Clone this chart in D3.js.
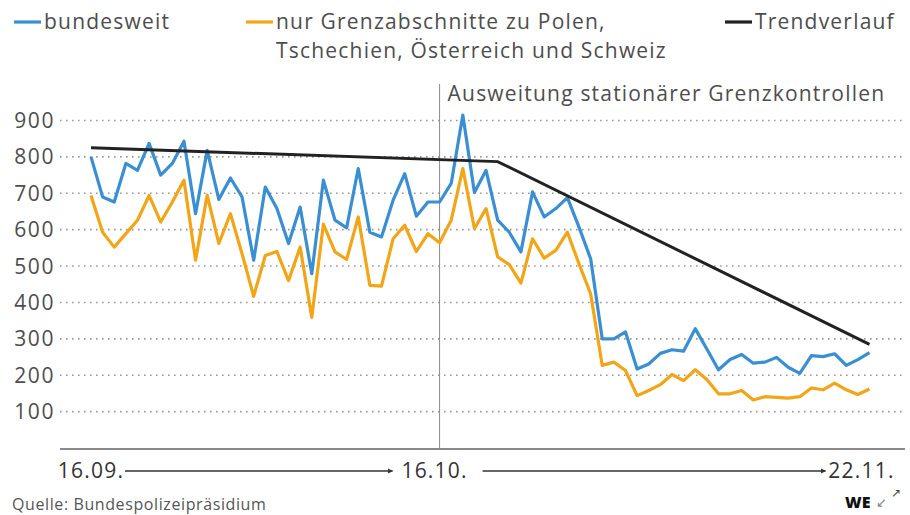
<!DOCTYPE html>
<html>
<head>
<meta charset="utf-8">
<script src="https://cdn.jsdelivr.net/npm/d3@7"></script>
<style>
  body { margin: 0; background: #fff; }
  svg text { font-family: "Open Sans", sans-serif; fill: #4d4d4d; }
  svg text.wide { letter-spacing: 1.2px; }
</style>
</head>
<body>
<div id="chart"></div>
<script>
// Tagesbezogene Werte ab 16.09. (68 Tage bis 22.11.)
const startDate = new Date(2023, 8, 16);
const bundesweit = [
  800, 690, 676, 782, 763, 837, 750, 782, 843, 644,
  818, 683, 742, 690, 516, 717, 658, 562, 662, 479,
  736, 626, 605, 768, 593, 580, 681, 754, 637, 676,
  676, 727, 915, 702, 763, 626, 593, 539, 704, 635,
  658, 688, 607, 520, 300, 300, 319, 217, 231, 260,
  270, 266, 328, 272, 215, 243, 257, 233, 236, 249,
  222, 205, 254, 251, 259, 227, 243, 262
];
const grenzabschnitte = [
  694, 593, 552, 589, 626, 694, 621, 676, 736, 516,
  695, 562, 644, 534, 417, 529, 540, 460, 552, 359,
  615, 539, 518, 635, 447, 445, 575, 612, 540, 589,
  564, 626, 768, 603, 658, 525, 504, 453, 575, 522,
  543, 593, 506, 424, 227, 236, 213, 144, 158, 174,
  202, 185, 215, 188, 149, 149, 158, 132, 141, 139,
  137, 141, 165, 160, 178, 160, 147, 162
];
const trendDays = [0, 35, 67];
const trendValues = [825, 787, 285];
const yTicks = [100, 200, 300, 400, 500, 600, 700, 800, 900];
const xLabels = ["16.09.", "16.10.", "22.11."];
const xLabelDays = [0, 30, 67];
const markerDay = 30;

const dayDate = (i) => d3.timeDay.offset(startDate, i);

const width = 910;
const height = 515;

const svg = d3
  .select("#chart")
  .append("svg")
  .attr("width", width)
  .attr("height", height);

const x = d3
  .scaleTime()
  .domain([dayDate(0), dayDate(67)])
  .range([91, 869.5]);

const y = d3.scaleLinear().domain([0, 900]).range([448, 120.5]);

// Gitterlinien
svg
  .append("g")
  .selectAll("line")
  .data(yTicks)
  .enter()
  .append("line")
  .attr("x1", 60)
  .attr("x2", 905)
  .attr("y1", (d) => y(d))
  .attr("y2", (d) => y(d))
  .attr("stroke", "#9a9a9a")
  .attr("stroke-width", 1.6)
  .attr("stroke-dasharray", "1.6,4.4");

svg
  .append("g")
  .selectAll("text")
  .data(yTicks)
  .enter()
  .append("text")
  .attr("class", "wide")
  .attr("x", 55)
  .attr("y", (d) => y(d))
  .attr("dy", "0.36em")
  .attr("text-anchor", "end")
  .style("font-size", "21px")
  .style("letter-spacing", "1.6px")
  .text((d) => d);

// Grundlinie
svg
  .append("line")
  .attr("x1", 60)
  .attr("x2", 905)
  .attr("y1", y(0) + 1)
  .attr("y2", y(0) + 1)
  .attr("stroke", "#8a8a8a")
  .attr("stroke-width", 2);

// Markierung Ausweitung
svg
  .append("line")
  .attr("x1", x(dayDate(markerDay)))
  .attr("x2", x(dayDate(markerDay)))
  .attr("y1", 84)
  .attr("y2", y(0))
  .attr("stroke", "#8a8a8a")
  .attr("stroke-width", 1);

svg
  .append("text")
  .attr("class", "wide")
  .attr("x", x(dayDate(markerDay)) + 8)
  .attr("y", 101)
  .style("font-size", "21px")
  .text("Ausweitung stationärer Grenzkontrollen");

const line = d3
  .line()
  .x((d, i) => x(dayDate(i)))
  .y((d) => y(d));

svg
  .append("path")
  .datum(grenzabschnitte)
  .attr("fill", "none")
  .attr("stroke", "#f2a516")
  .attr("stroke-width", 3.2)
  .attr("stroke-linejoin", "round")
  .attr("d", line);

svg
  .append("path")
  .datum(bundesweit)
  .attr("fill", "none")
  .attr("stroke", "#3a8fd3")
  .attr("stroke-width", 3.2)
  .attr("stroke-linejoin", "round")
  .attr("d", line);

const trendLine = d3
  .line()
  .x((d, i) => x(dayDate(trendDays[i])))
  .y((d) => y(d));

svg
  .append("path")
  .datum(trendValues)
  .attr("fill", "none")
  .attr("stroke", "#222")
  .attr("stroke-width", 3)
  .attr("d", trendLine);

// x-Achse mit Pfeilen
svg
  .append("defs")
  .append("marker")
  .attr("id", "arrow")
  .attr("viewBox", "0 0 10 10")
  .attr("refX", 9)
  .attr("refY", 5)
  .attr("markerWidth", 4)
  .attr("markerHeight", 4)
  .attr("orient", "auto")
  .append("path")
  .attr("d", "M0,0L10,5L0,10Z")
  .attr("fill", "#333");

const labelPos = xLabelDays.map((d) => x(dayDate(d)));
const labelShift = [0, -5, -8];

svg
  .append("g")
  .selectAll("text")
  .data(xLabels)
  .enter()
  .append("text")
  .attr("class", "wide")
  .attr("x", (d, i) => labelPos[i] + labelShift[i])
  .attr("y", 478)
  .attr("text-anchor", "middle")
  .style("font-size", "21px")
  .style("fill", "#333")
  .text((d) => d);

const arrows = [
  [labelPos[0] + 34, labelPos[1] - 47],
  [labelPos[1] + 43, labelPos[2] - 44],
];
svg
  .append("g")
  .selectAll("line")
  .data(arrows)
  .enter()
  .append("line")
  .attr("x1", (d) => d[0])
  .attr("x2", (d) => d[1])
  .attr("y1", 471)
  .attr("y2", 471)
  .attr("stroke", "#333")
  .attr("stroke-width", 1.3)
  .attr("marker-end", "url(#arrow)");

// Legende
const legend = [
  { label: ["bundesweit"], color: "#3a8fd3", x: 14 },
  { label: ["nur Grenzabschnitte zu Polen,", "Tschechien, Österreich und Schweiz"], color: "#f2a516", x: 246 },
  { label: ["Trendverlauf"], color: "#222", x: 725 },
];

const lg = svg
  .append("g")
  .selectAll("g")
  .data(legend)
  .enter()
  .append("g")
  .attr("transform", (d) => `translate(${d.x},0)`);

lg.append("line")
  .attr("x1", 0)
  .attr("x2", 27)
  .attr("y1", 22)
  .attr("y2", 22)
  .attr("stroke", (d) => d.color)
  .attr("stroke-width", 3.2);

lg.append("text")
  .attr("class", "wide")
  .attr("x", 30)
  .attr("y", 29)
  .style("font-size", "21px")
  .selectAll("tspan")
  .data((d) => d.label)
  .enter()
  .append("tspan")
  .attr("x", 30)
  .attr("dy", (d, i) => (i === 0 ? 0 : 29))
  .text((d) => d);

// Quelle und Logo
svg
  .append("text")
  .attr("x", 12)
  .attr("y", 510)
  .style("font-size", "16px")
  .style("letter-spacing", "0.6px")
  .style("fill", "#555")
  .text("Quelle: Bundespolizeipräsidium");

svg
  .append("text")
  .attr("x", 845)
  .attr("y", 508)
  .style("font-size", "16px")
  .style("font-weight", "800")
  .style("fill", "#111")
  .text("WE");

svg
  .append("text")
  .attr("x", 876)
  .attr("y", 507)
  .style("font-size", "13px")
  .style("fill", "#888")
  .text("↙");

svg
  .append("text")
  .attr("x", 891)
  .attr("y", 497)
  .style("font-size", "12px")
  .style("fill", "#444")
  .text("↗");
</script>
</body>
</html>
